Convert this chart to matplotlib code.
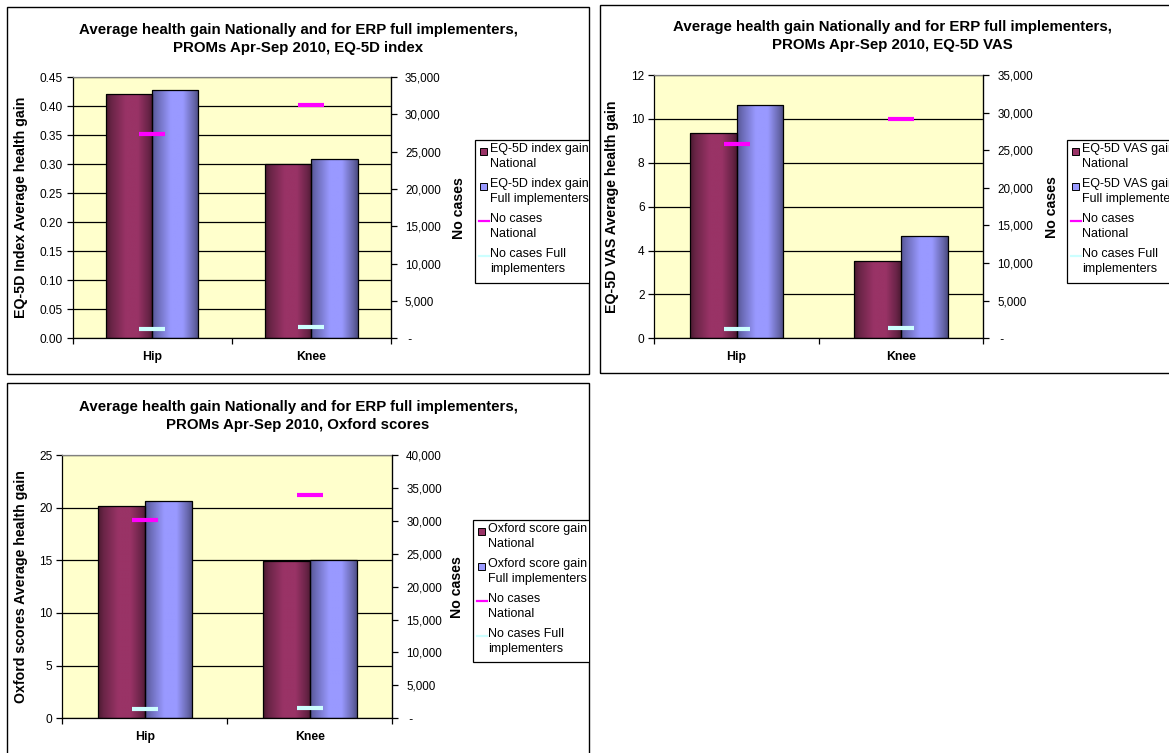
import numpy as np
import matplotlib
matplotlib.use("Agg")
import matplotlib.pyplot as plt
from matplotlib.patches import Rectangle
from matplotlib.lines import Line2D
from matplotlib.colors import LinearSegmentedColormap
from matplotlib.ticker import FuncFormatter, MultipleLocator

plt.rcParams['font.family'] = ['Liberation Sans', 'DejaVu Sans']

# ---------------- data ----------------
categories = ["Hip", "Knee"]

eq5d_index_national = [0.421, 0.301]
eq5d_index_full = [0.427, 0.308]
eq5d_index_cases_national = [27400, 31300]
eq5d_index_cases_full = [1200, 1480]

eq5d_vas_national = [9.34, 3.54]
eq5d_vas_full = [10.63, 4.68]
eq5d_vas_cases_national = [25800, 29200]
eq5d_vas_cases_full = [1200, 1330]

oxford_national = [20.13, 14.9]
oxford_full = [20.6, 15.06]
oxford_cases_national = [30170, 33970]
oxford_cases_full = [1370, 1520]

titles = [
    "Average health gain Nationally and for ERP full implementers,\nPROMs Apr-Sep 2010, EQ-5D index",
    "Average health gain Nationally and for ERP full implementers,\nPROMs Apr-Sep 2010, EQ-5D VAS",
    "Average health gain Nationally and for ERP full implementers,\nPROMs Apr-Sep 2010, Oxford scores",
]
ylabels = ["EQ-5D Index Average health gain", "EQ-5D VAS Average health gain",
           "Oxford scores Average health gain"]
legend_labels = [
    ["EQ-5D index gain\nNational", "EQ-5D index gain\nFull implementers",
     "No cases\nNational", "No cases Full\nimplementers"],
    ["EQ-5D VAS gain\nNational", "EQ-5D VAS gain\nFull implementers",
     "No cases\nNational", "No cases Full\nimplementers"],
    ["Oxford score gain\nNational", "Oxford score gain\nFull implementers",
     "No cases\nNational", "No cases Full\nimplementers"],
]

# ---------------- style ----------------
W, H = 1169, 753
C_NAT = "#993366"
C_FULL = "#9999FF"
C_CASE_NAT = "#FF00FF"
C_CASE_FULL = "#CCFFFF"
BG = "#FFFFCC"

cm_nat = LinearSegmentedColormap.from_list(
    "nat", [(0, "#4a1a30"), (0.12, "#6a2547"), (0.42, "#993366"), (0.68, "#993366"),
            (0.9, "#6a2448"), (1, "#4d1a33")])
cm_full = LinearSegmentedColormap.from_list(
    "full", [(0, "#565694"), (0.12, "#6c6cb8"), (0.4, "#9999FF"), (0.66, "#9999FF"),
             (0.9, "#6666aa"), (1, "#4a4a80")])

fig = plt.figure(figsize=(W / 100, H / 100), dpi=100)


def fx(x):
    return x / W


def fy(y):
    return 1 - y / H


def panel_rect(x0, y0, x1, y1):
    return Rectangle((fx(x0), fy(y1)), fx(x1) - fx(x0), fy(y0) - fy(y1),
                     transform=fig.transFigure)


def shade(ax, bars, cmap):
    grad = np.linspace(0, 1, 256).reshape(1, -1)
    for b in bars:
        x0, w, h = b.get_x(), b.get_width(), b.get_height()
        im = ax.imshow(grad, extent=[x0, x0 + w, 0, h], aspect="auto", cmap=cmap,
                       origin="lower", zorder=1.8, interpolation="bilinear")
        im.set_clip_path(b)


def cases_fmt(v, pos):
    if abs(v) < 1e-9:
        return " -"
    return f"{int(round(v)):,}"


def make_panel(box, axpos, title_y, title_x, ylabel_x, nocases_x, cat_y, leg,
               title, ylabel, labels, nat, full, cnat, cfull, ymax, ystep, yfmt,
               y2max, barw):
    # panel border
    border = panel_rect(*box)
    border.set_fill(False)
    border.set_edgecolor("black")
    border.set_linewidth(1.0)
    fig.add_artist(border)
    clip = panel_rect(*box)

    l, t, r, b = axpos
    ax = fig.add_axes([fx(l), fy(b), fx(r) - fx(l), fy(t) - fy(b)])
    ax.set_facecolor(BG)
    ax.set_axisbelow(True)
    x = np.arange(len(categories))
    bn = ax.bar(x - barw / 2, nat, width=barw, facecolor="none", edgecolor="black",
                linewidth=0.9, zorder=2)
    bf = ax.bar(x + barw / 2, full, width=barw, facecolor="none", edgecolor="black",
                linewidth=0.9, zorder=2)
    shade(ax, bn, cm_nat)
    shade(ax, bf, cm_full)
    ax.set_xlim(-0.5, len(categories) - 0.5)
    ax.set_ylim(0, ymax)
    ax.yaxis.set_major_locator(MultipleLocator(ystep))
    ax.yaxis.set_major_formatter(FuncFormatter(yfmt))
    ax.grid(axis="y", color="black", linewidth=0.9)
    ax.set_xticks([-0.5, 0.5, 1.5])
    ax.set_xticklabels([])
    ax.tick_params(axis="x", length=4, width=0.9, direction="out")
    ax.tick_params(axis="y", length=4, width=0.9, direction="out", pad=3,
                   labelsize=8.6)
    for s in ["top", "right"]:
        ax.spines[s].set_color("#808080")
        ax.spines[s].set_linewidth(0.9)
    for s in ["left", "bottom"]:
        ax.spines[s].set_color("black")
        ax.spines[s].set_linewidth(0.9)

    ax2 = ax.twinx()
    ax2.set_ylim(0, y2max)
    ax2.yaxis.set_major_locator(MultipleLocator(5000))
    ax2.yaxis.set_major_formatter(FuncFormatter(cases_fmt))
    ax2.tick_params(axis="y", length=4, width=0.9, direction="out", pad=6,
                    labelsize=8.4)
    ax2.spines["right"].set_color("black")
    ax2.spines["right"].set_linewidth(0.9)
    for s in ["top", "left", "bottom"]:
        ax2.spines[s].set_visible(False)
    ax2.plot(x, cnat, linestyle="none", marker="_", markersize=18.5,
             markeredgewidth=3.0, color=C_CASE_NAT, zorder=3)
    ax2.plot(x, cfull, linestyle="none", marker="_", markersize=18.5,
             markeredgewidth=3.0, color=C_CASE_FULL, zorder=3)
    ax2.set_xlim(-0.5, len(categories) - 0.5)

    # category labels
    for i, c in enumerate(categories):
        xp = l + (r - l) * (i + 0.5) / len(categories)
        fig.text(fx(xp), fy(cat_y), c, ha="center", va="center",
                 fontsize=8.8, fontweight="bold")

    # title
    fig.text(fx(title_x), fy(title_y), title, ha="center", va="center",
             fontsize=10.8, fontweight="bold", linespacing=1.35)
    # y labels
    fig.text(fx(ylabel_x), fy((t + b) / 2), ylabel, rotation=90, ha="center",
             va="center", fontsize=10.2, fontweight="bold")
    fig.text(fx(nocases_x), fy((t + b) / 2), "No cases", rotation=90,
             ha="center", va="center", fontsize=10.2, fontweight="bold")

    # legend (Excel style, clipped to panel)
    lx0, ly0, ly1 = leg
    frame = panel_rect(lx0, ly0, lx0 + 200, ly1)
    frame.set_fill(True)
    frame.set_facecolor("white")
    frame.set_edgecolor("black")
    frame.set_linewidth(0.9)
    frame.set_clip_path(clip)
    fig.add_artist(frame)
    handles = [("bar", C_NAT), ("bar", C_FULL), ("line", C_CASE_NAT),
               ("line", C_CASE_FULL)]
    for k, ((kind, col), lab) in enumerate(zip(handles, labels)):
        yl = ly0 + 11 + 35 * k
        if kind == "bar":
            sq = panel_rect(lx0 + 5, yl - 3.5, lx0 + 12, yl + 3.5)
            sq.set_facecolor(col)
            sq.set_edgecolor("black")
            sq.set_linewidth(0.7)
            fig.add_artist(sq)
        else:
            ln = Line2D([fx(lx0 + 4), fx(lx0 + 14)], [fy(yl), fy(yl)],
                        transform=fig.transFigure, color=col, linewidth=1.6)
            fig.add_artist(ln)
        tx = fig.text(fx(lx0 + 15), fy(yl - 8), lab, ha="left", va="top",
                      fontsize=9.0, linespacing=1.3)
        tx.set_clip_path(clip)
    return ax


fmt2 = lambda v, p: f"{v:.2f}"
fmt0 = lambda v, p: f"{v:.0f}"

make_panel(box=(7, 7, 589, 374), axpos=(72.5, 77, 391, 338.3), title_y=39,
           title_x=298, ylabel_x=21, nocases_x=459, cat_y=357,
           leg=(475, 140, 283), title=titles[0], ylabel=ylabels[0],
           labels=legend_labels[0], nat=eq5d_index_national,
           full=eq5d_index_full, cnat=eq5d_index_cases_national,
           cfull=eq5d_index_cases_full, ymax=0.45, ystep=0.05, yfmt=fmt2,
           y2max=35000, barw=0.29)

make_panel(box=(600, 5, 1190, 373), axpos=(654.3, 75, 983.3, 338.3), title_y=36,
           title_x=892, ylabel_x=612, nocases_x=1052, cat_y=357,
           leg=(1067, 140, 283), title=titles[1], ylabel=ylabels[1],
           labels=legend_labels[1], nat=eq5d_vas_national,
           full=eq5d_vas_full, cnat=eq5d_vas_cases_national,
           cfull=eq5d_vas_cases_full, ymax=12, ystep=2, yfmt=fmt0,
           y2max=35000, barw=0.285)

make_panel(box=(7, 383, 589, 780), axpos=(62.3, 455, 392.3, 718.3), title_y=416,
           title_x=298, ylabel_x=21, nocases_x=457, cat_y=737,
           leg=(473, 520, 662), title=titles[2], ylabel=ylabels[2],
           labels=legend_labels[2], nat=oxford_national,
           full=oxford_full, cnat=oxford_cases_national,
           cfull=oxford_cases_full, ymax=25, ystep=5, yfmt=fmt0,
           y2max=40000, barw=0.285)

fig.savefig("out.png", dpi=100)
